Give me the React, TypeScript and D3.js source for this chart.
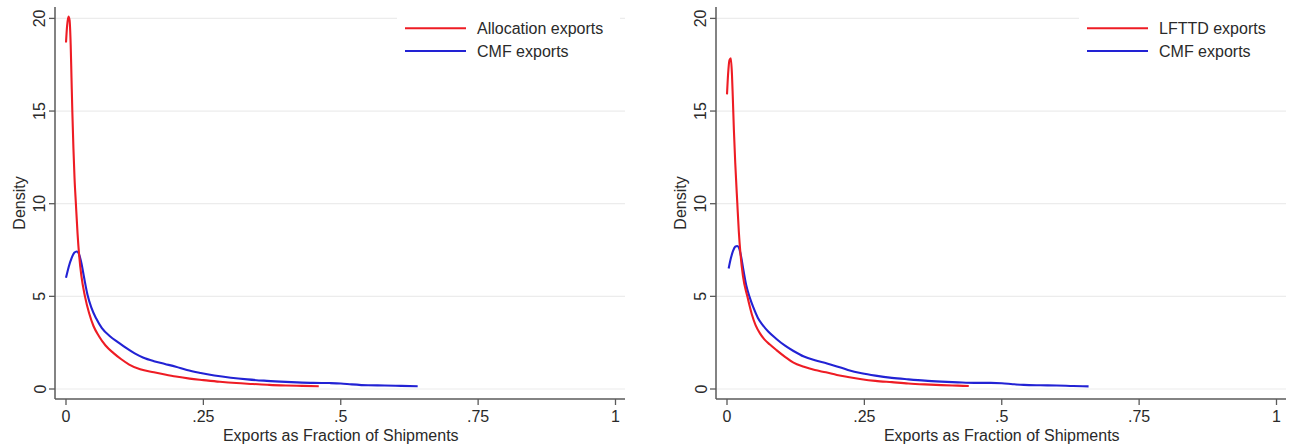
import React from "react";
import * as d3 from "d3";

// ---- data ----
const yTicks = [0, 5, 10, 15, 20];
const xTicks = [0, 0.25, 0.5, 0.75, 1];
const xTickLabels = ["0", ".25", ".5", ".75", "1"];

const allocationExports: [number, number][] = [
  [0, 18.7], [0.002, 19.6], [0.0045, 20.1], [0.0065, 19.9], [0.0085, 18.6], [0.01, 16.8],
  [0.0115, 15], [0.0135, 13], [0.0155, 11.4], [0.018, 10], [0.021, 8.4], [0.024, 7.2],
  [0.028, 6.1], [0.0345, 5.0], [0.042, 4.1], [0.05, 3.4], [0.06, 2.85], [0.072, 2.35],
  [0.086, 1.95], [0.1, 1.62], [0.115, 1.32], [0.135, 1.06], [0.16, 0.9], [0.18, 0.78],
  [0.2, 0.67], [0.225, 0.56], [0.25, 0.48], [0.28, 0.39], [0.31, 0.32], [0.34, 0.27],
  [0.37, 0.22], [0.4, 0.19], [0.43, 0.17], [0.46, 0.15],
];

const cmfExportsLeft: [number, number][] = [
  [0, 6.0], [0.005, 6.6], [0.01, 7.05], [0.015, 7.35], [0.0195, 7.42], [0.024, 7.25],
  [0.028, 6.8], [0.033, 6.0], [0.039, 5.1], [0.046, 4.4], [0.055, 3.8], [0.065, 3.3],
  [0.08, 2.85], [0.095, 2.52], [0.11, 2.2], [0.125, 1.92], [0.14, 1.7], [0.16, 1.5],
  [0.18, 1.35], [0.2, 1.2], [0.22, 1.02], [0.245, 0.86], [0.27, 0.73], [0.3, 0.61],
  [0.33, 0.52], [0.36, 0.45], [0.39, 0.4], [0.42, 0.36], [0.45, 0.33], [0.48, 0.32],
  [0.5, 0.3], [0.52, 0.25], [0.55, 0.2], [0.58, 0.19], [0.61, 0.17], [0.64, 0.15],
];

const lfttdExports: [number, number][] = [
  [0, 15.9], [0.002, 17.0], [0.0045, 17.75], [0.007, 17.85], [0.009, 17.0], [0.0105, 15.8],
  [0.0125, 14.0], [0.015, 12.2], [0.0188, 10], [0.0215, 8.5], [0.0245, 7.3], [0.029, 6.1],
  [0.037, 5.0], [0.045, 4.05], [0.052, 3.45], [0.06, 3.0], [0.068, 2.68], [0.078, 2.4],
  [0.09, 2.1], [0.105, 1.75], [0.121, 1.42], [0.14, 1.2], [0.16, 1.02], [0.18, 0.9],
  [0.2, 0.76], [0.22, 0.65], [0.245, 0.53], [0.27, 0.44], [0.3, 0.37], [0.33, 0.3],
  [0.36, 0.25], [0.39, 0.21], [0.42, 0.18], [0.44, 0.16],
];

const cmfExportsRight: [number, number][] = [
  [0.003, 6.5], [0.007, 7.05], [0.011, 7.45], [0.015, 7.68], [0.0188, 7.72], [0.022, 7.6],
  [0.026, 7.1], [0.03, 6.4], [0.035, 5.6], [0.0407, 5.0], [0.048, 4.4], [0.056, 3.85],
  [0.065, 3.45], [0.075, 3.1], [0.09, 2.7], [0.105, 2.35], [0.121, 2.05], [0.14, 1.75],
  [0.16, 1.55], [0.182, 1.38], [0.2, 1.22], [0.22, 1.03], [0.245, 0.85], [0.27, 0.72],
  [0.3, 0.6], [0.33, 0.52], [0.36, 0.45], [0.39, 0.4], [0.42, 0.36], [0.45, 0.33],
  [0.48, 0.33], [0.5, 0.31], [0.52, 0.26], [0.54, 0.22], [0.57, 0.2], [0.6, 0.19],
  [0.63, 0.16], [0.658, 0.14],
];

const panels = [
  { redLabel: "Allocation exports", red: allocationExports, blue: cmfExportsLeft },
  { redLabel: "LFTTD exports", red: lfttdExports, blue: cmfExportsRight },
];

const RED = "#ee1c24";
const BLUE = "#2222d4";
const AXIS = "#5a5a5a";
const TEXT = "#2a2a2a";
const FONT = "'Liberation Sans', Arial, Helvetica, sans-serif";

function Panel({ offset, redLabel, red, blue, legendX }: any) {
  const x = d3.scaleLinear().domain([0, 1]).range([66, 615.5]);
  const y = d3.scaleLinear().domain([0, 20]).range([389, 18.4]);
  const axisX = 55;
  const axisY = 399;
  const plotRight = 625;
  const line = d3
    .line<[number, number]>()
    .x((d) => x(d[0]))
    .y((d) => y(d[1]))
    .curve(d3.curveMonotoneX);

  return (
    <g transform={`translate(${offset},0)`}>
      {/* gridlines */}
      {yTicks.map((t) => (
        <line key={"g" + t} x1={axisX} x2={plotRight} y1={y(t)} y2={y(t)} stroke="#ececec" strokeWidth={1.2} />
      ))}
      {/* legend box */}
      <rect x={legendX - 8} y={8} width={223} height={58} fill="#ffffff" />
      {/* curves */}
      <path d={line(blue) || ""} fill="none" stroke={BLUE} strokeWidth={2.1} />
      <path d={line(red) || ""} fill="none" stroke={RED} strokeWidth={2.1} />
      {/* axes */}
      <line x1={axisX} x2={axisX} y1={7} y2={axisY} stroke={AXIS} strokeWidth={1.5} />
      <line x1={axisX} x2={plotRight} y1={axisY} y2={axisY} stroke={AXIS} strokeWidth={1.5} />
      {yTicks.map((t) => (
        <g key={"y" + t}>
          <line x1={axisX - 6} x2={axisX} y1={y(t)} y2={y(t)} stroke={AXIS} strokeWidth={1.3} />
          <text
            x={45.5}
            y={y(t)}
            transform={`rotate(-90, 45.5, ${y(t)})`}
            textAnchor="middle"
            fontSize={16}
            fontFamily={FONT}
            fill={TEXT}
          >
            {t}
          </text>
        </g>
      ))}
      {xTicks.map((t, i) => (
        <g key={"x" + t}>
          <line x1={x(t)} x2={x(t)} y1={axisY} y2={axisY + 6} stroke={AXIS} strokeWidth={1.3} />
          <text x={x(t)} y={422} textAnchor="middle" fontSize={16} fontFamily={FONT} fill={TEXT}>
            {xTickLabels[i]}
          </text>
        </g>
      ))}
      <text x={(66 + 615.5) / 2} y={441} textAnchor="middle" fontSize={16} fontFamily={FONT} fill={TEXT}>
        Exports as Fraction of Shipments
      </text>
      <text
        x={24.5}
        y={203}
        transform="rotate(-90, 24.5, 203)"
        textAnchor="middle"
        fontSize={16}
        fontFamily={FONT}
        fill={TEXT}
      >
        Density
      </text>
      {/* legend */}
      <line x1={legendX} x2={legendX + 61} y1={28.3} y2={28.3} stroke={RED} strokeWidth={2.1} />
      <line x1={legendX} x2={legendX + 61} y1={51} y2={51} stroke={BLUE} strokeWidth={2.1} />
      <text x={legendX + 72} y={28.3 + 5.6} fontSize={16} fontFamily={FONT} fill={TEXT}>
        {redLabel}
      </text>
      <text x={legendX + 72} y={51 + 5.6} fontSize={16} fontFamily={FONT} fill={TEXT}>
        CMF exports
      </text>
    </g>
  );
}

export default function App() {
  return (
    <svg
      width={1290}
      height={447}
      style={{ position: "absolute", left: 0, top: 0, background: "#ffffff" }}
    >
      <rect x={0} y={0} width={1290} height={447} fill="#ffffff" />
      <Panel offset={0} redLabel={panels[0].redLabel} red={panels[0].red} blue={panels[0].blue} legendX={405} />
      <Panel offset={661} redLabel={panels[1].redLabel} red={panels[1].red} blue={panels[1].blue} legendX={426} />
    </svg>
  );
}
